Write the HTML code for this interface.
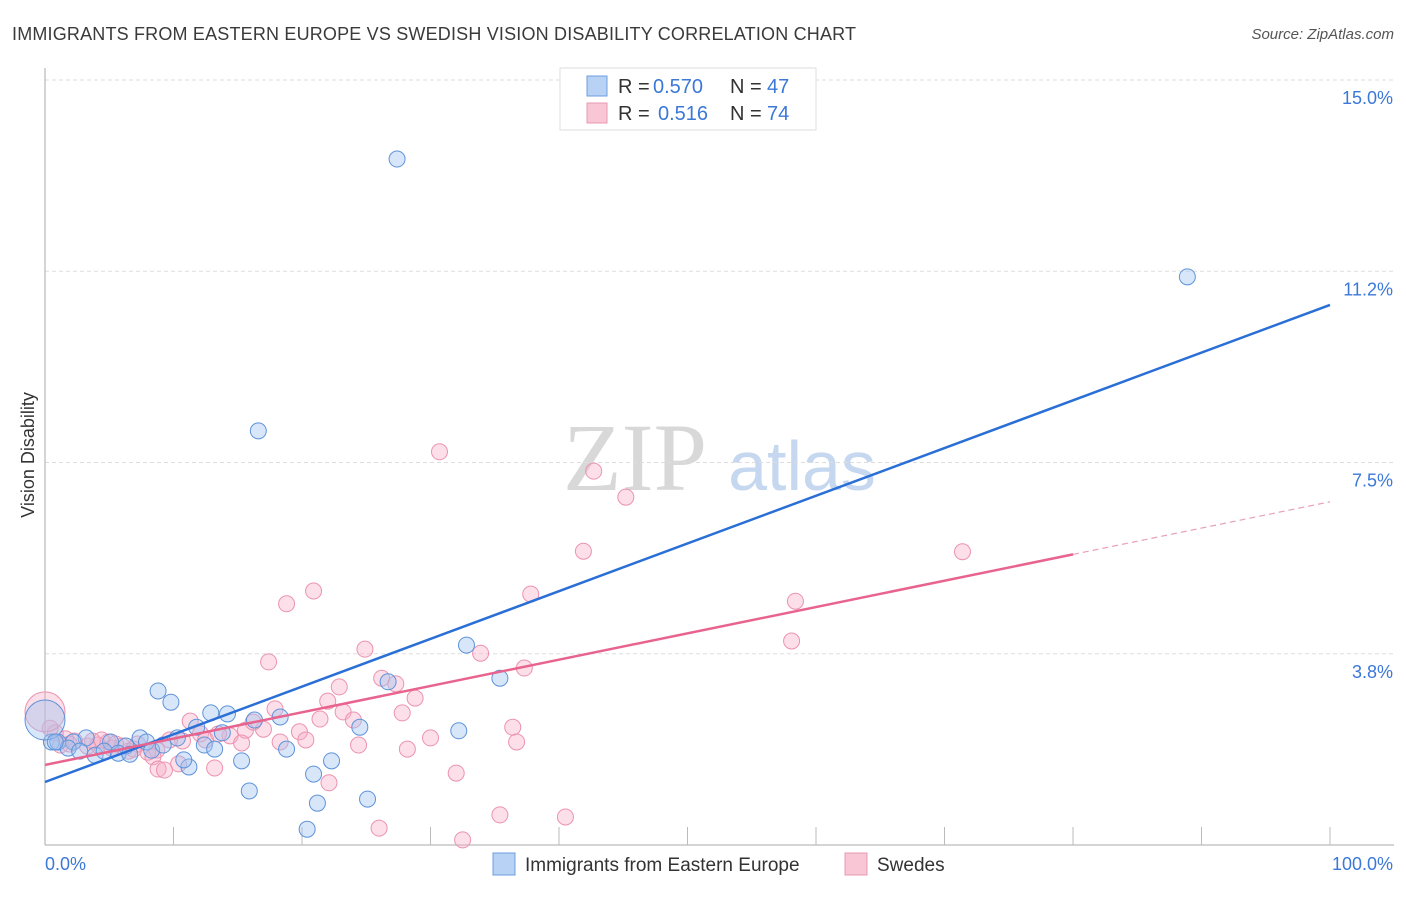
<!DOCTYPE html>
<html><head><meta charset="utf-8"><style>
body{margin:0;background:#fff;font-family:"Liberation Sans",sans-serif}
svg text{font-family:"Liberation Sans",sans-serif}
</style></head><body>
<svg id="chart" width="1406" height="892" viewBox="0 0 1406 892" xmlns="http://www.w3.org/2000/svg">
<text x="12" y="40" font-size="18" fill="#3a3a3a" textLength="844">IMMIGRANTS FROM EASTERN EUROPE VS SWEDISH VISION DISABILITY CORRELATION CHART</text>
<text x="1394" y="39" font-size="15" fill="#555" font-style="italic" text-anchor="end">Source: ZipAtlas.com</text>
<g>
<text x="635" y="490" font-size="96" fill="#d8d8d8" style="font-family:'Liberation Serif',serif" text-anchor="middle">ZIP</text>
<text x="802" y="490" font-size="70" fill="#c5d8f0" text-anchor="middle">atlas</text>
</g>
<g id="grid"></g>
<g id="axes"></g>
<g id="marks"></g>
<text transform="translate(34,455) rotate(-90)" font-size="18" fill="#333" text-anchor="middle">Vision Disability</text>
<g>
<rect x="560" y="68" width="256" height="62" fill="#fff" stroke="#ddd"/>
<rect x="587" y="76" width="20" height="20" fill="#b8d2f5" stroke="#6d9ee0"/>
<text x="618" y="93" font-size="20" fill="#333">R =</text>
<text x="653" y="93" font-size="20" fill="#3b78d8">0.570</text>
<text x="730" y="93" font-size="20" fill="#333">N =</text>
<text x="767" y="93" font-size="20" fill="#3b78d8">47</text>
<rect x="587" y="103" width="20" height="20" fill="#f9c6d6" stroke="#e89ab3"/>
<text x="618" y="120" font-size="20" fill="#333">R =</text>
<text x="658" y="120" font-size="20" fill="#3b78d8">0.516</text>
<text x="730" y="120" font-size="20" fill="#333">N =</text>
<text x="767" y="120" font-size="20" fill="#3b78d8">74</text>
</g>
<g>
<rect x="493" y="853" width="22" height="22" fill="#b8d2f5" stroke="#6d9ee0"/>
<text x="525" y="871" font-size="19" fill="#333">Immigrants from Eastern Europe</text>
<rect x="845" y="853" width="22" height="22" fill="#f9c6d6" stroke="#e89ab3"/>
<text x="877" y="871" font-size="19" fill="#333">Swedes</text>
</g>
</svg>
<script>
const blueX=[27.4,88.9,16.6,32.8,35.4,26.7,8.8,9.8,12.9,14.2,16.3,18.3,24.5,32.2,13.8,11.8,10.3,12.4,13.2,7.4,7.9,6.3,5.1,3.2,2.2,0.5,1.0,1.8,2.7,3.9,4.6,5.7,6.6,8.3,9.2,11.2,10.8,15.3,18.8,22.3,20.9,15.9,21.2,25.1,20.4,0.0,0.8];
const blueY=[13.45,11.14,8.12,3.92,3.27,3.20,3.02,2.80,2.59,2.57,2.45,2.51,2.31,2.24,2.20,2.31,2.10,1.96,1.88,2.10,2.02,1.94,2.02,2.10,2.02,2.02,2.02,1.90,1.84,1.76,1.84,1.80,1.78,1.86,1.96,1.53,1.67,1.65,1.88,1.65,1.39,1.06,0.82,0.90,0.31,2.45,2.02];
const blueR=[8,8,8,8,8,8,8,8,8,8,8,8,8,8,8,8,8,8,8,8,8,8,8,8,8,8,8,8,8,8,8,8,8,8,8,8,8,8,8,8,8,8,8,8,8,20,8];
const pinkX=[30.7,42.7,45.2,41.9,71.4,58.4,20.9,18.8,37.8,58.1,24.9,33.9,37.3,17.4,22.9,26.2,27.3,28.8,22.0,17.9,27.8,23.2,21.4,24.0,19.8,20.3,17.0,15.6,16.2,11.3,12.1,14.4,15.3,18.3,24.4,28.2,30.0,36.4,36.7,10.7,8.7,8.0,7.2,6.0,4.9,4.1,3.3,2.3,1.6,0.8,0.4,0.0,8.4,10.4,8.8,9.3,13.2,32.0,22.1,35.4,40.5,26.0,32.5,5.2,6.5,9.7,12.5,13.5,1.2,1.9,3.7,4.4,5.5,6.9];
const pinkY=[7.71,7.33,6.82,5.76,5.75,4.78,4.98,4.73,4.92,4.00,3.84,3.76,3.47,3.59,3.10,3.27,3.16,2.88,2.82,2.67,2.59,2.61,2.47,2.45,2.22,2.06,2.27,2.25,2.41,2.43,2.18,2.14,2.00,2.02,1.96,1.88,2.10,2.31,2.02,2.04,1.86,1.82,1.98,1.94,2.02,1.96,1.94,2.04,2.08,2.20,2.29,2.61,1.73,1.59,1.49,1.47,1.51,1.41,1.22,0.59,0.55,0.33,0.10,1.90,1.84,2.06,2.06,2.18,1.96,1.98,2.04,2.06,1.98,1.88];
const yTicks=[3.75,7.5,11.25,15];
const yTickLabels=["3.8%","7.5%","11.2%","15.0%"];
const xTicks=[0,10,20,30,40,50,60,70,80,90,100];
const blueLine=[1.235,10.59];
const pinkLine=[1.57,6.73];
const pinkSolidEnd=80;

const NS="http://www.w3.org/2000/svg";
const X0=45,X1=1330,Y0=845,PXPER=51.0;
const sx=v=>X0+(X1-X0)*v/100;
const sy=v=>Y0-v*PXPER;
function mk(tag,attrs,parent){const e=document.createElementNS(NS,tag);for(const k in attrs)e.setAttribute(k,attrs[k]);document.getElementById(parent).appendChild(e);return e;}

yTicks.forEach((t,i)=>{
  const g=mk('line',{x1:X0,x2:1394,y1:sy(t),y2:sy(t),stroke:'#ddd','stroke-dasharray':'4,3'},'grid');
  
  
  const l=mk('text',{x:1393,y:sy(t)+24,'font-size':18,fill:'#3b78d8','text-anchor':'end'},'grid');
  l.textContent=yTickLabels[i];
  
  
});
const ya=mk('line',{x1:X0,x2:X0,y1:68,y2:Y0,stroke:'#aaa'},'axes');


const xa=mk('line',{x1:X0,x2:1394,y1:Y0,y2:Y0,stroke:'#aaa'},'axes');


xTicks.forEach(t=>{
  if(t===0)return;
  const k=mk('line',{x1:sx(t),x2:sx(t),y1:Y0-18,y2:Y0,stroke:'#bbb'},'axes');
  
  
});
const l0=mk('text',{x:45,y:870,'font-size':18,fill:'#3b78d8'},'axes');l0.textContent='0.0%';


const l1=mk('text',{x:1393,y:870,'font-size':18,fill:'#3b78d8','text-anchor':'end'},'axes');l1.textContent='100.0%';



pinkX.forEach((x,i)=>{
  const c=mk('circle',{cx:sx(x),cy:sy(pinkY[i]),r:i===51?20:8,fill:'rgba(246,170,196,0.38)',stroke:'#eb93b0','stroke-width':1},'marks');
  
  
});
blueX.forEach((x,i)=>{
  const c=mk('circle',{cx:sx(x),cy:sy(blueY[i]),r:blueR[i],fill:'rgba(160,196,240,0.42)',stroke:'#5f93da','stroke-width':1},'marks');
  
  
});
const pv=x=>pinkLine[0]+(pinkLine[1]-pinkLine[0])*x/100;
const bl=mk('line',{x1:sx(0),y1:sy(blueLine[0]),x2:sx(100),y2:sy(blueLine[1]),stroke:'#2a6fd6','stroke-width':2.5},'marks');


const pl=mk('line',{x1:sx(0),y1:sy(pv(0)),x2:sx(pinkSolidEnd),y2:sy(pv(pinkSolidEnd)),stroke:'#e8638e','stroke-width':2.5},'marks');


const pd=mk('line',{x1:sx(pinkSolidEnd),y1:sy(pv(pinkSolidEnd)),x2:sx(100),y2:sy(pv(100)),stroke:'#e8a0b8','stroke-width':1.2,'stroke-dasharray':'6,4'},'marks');


</script>
</body></html>
